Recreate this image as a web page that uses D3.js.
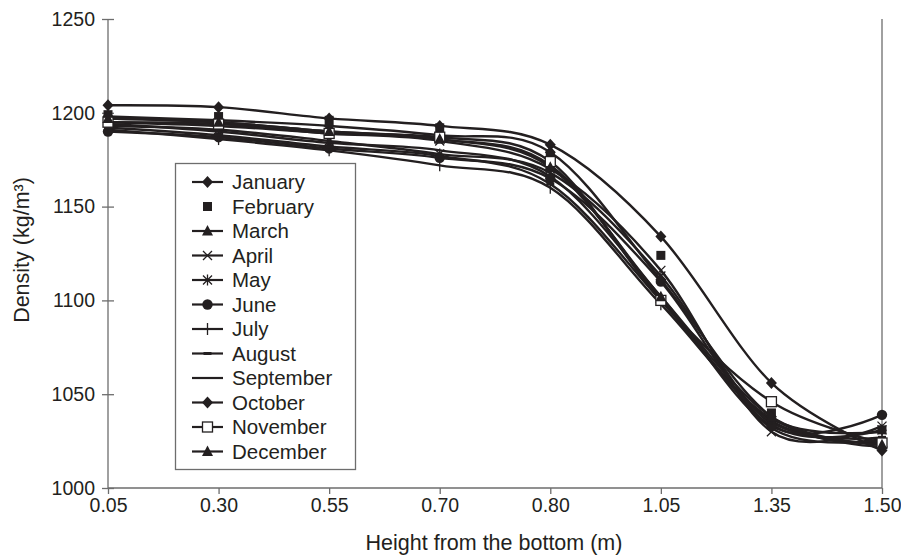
<!DOCTYPE html>
<html><head><meta charset="utf-8">
<script src="https://cdn.jsdelivr.net/npm/d3@7"></script>
<style>body{margin:0;background:#fff}svg{display:block}text{font-family:"Liberation Sans",Arial,sans-serif;fill:#231f20}</style>
</head><body>
<svg id="c" width="901" height="555"></svg>
<script>
const heights = ["0.05","0.30","0.55","0.70","0.80","1.05","1.35","1.50"];
const months = ["January","February","March","April","May","June","July","August","September","October","November","December"];
const markers = ["diamond","square","triangle","x","asterisk","circle","plus","dash","none","diamond","opensquare","triangle"];
const showLine = [true,false,true,true,true,true,true,true,true,true,true,true];
const January   = [1204,1203,1197,1193,1183,1134,1056,1020];
const February  = [1199,1198,1196,1192,1177,1124,1040,1031];
const March     = [1197,1195,1190,1186,1172,1101,1036,1024];
const April     = [1195,1193,1189,1185,1170,1116,1030,1033];
const May       = [1193,1191,1185,1178,1168,1113,1034,1031];
const June      = [1190,1187,1181,1176,1165,1110,1033,1039];
const July      = [1191,1186,1180,1172,1160,1098,1037,1030];
const August    = [1192,1188,1182,1177,1162,1100,1035,1027];
const September = [1194,1190,1184,1180,1166,1102,1032,1026];
const October   = [1198,1196,1193,1188,1179,1111,1038,1022];
const November  = [1195,1194,1189,1187,1174,1100,1046,1024];
const December  = [1197,1195,1190,1186,1171,1102,1038,1023];
const seriesValues = [January,February,March,April,May,June,July,August,September,October,November,December];
const yTicks = [1000,1050,1100,1150,1200,1250];

const svg = d3.select("#c");
const ink = "#231f20", axisCol = "#6d6d6d";
const x = d3.scalePoint().domain(heights).range([108, 882]);
const y = d3.scaleLinear().domain([1000,1250]).range([488, 19]);

// axes
const yAxis = svg.append("g").attr("transform","translate(108,0)")
  .call(d3.axisLeft(y).tickValues(yTicks).tickSize(6).tickPadding(7).tickFormat(d3.format("d")));
yAxis.selectAll(".tick line").attr("x2",-6).attr("x1",6);
const xAxis = svg.append("g").attr("transform","translate(0,488)")
  .call(d3.axisBottom(x).tickSize(6).tickPadding(4));
[yAxis,xAxis].forEach(a=>{
  a.select(".domain").attr("stroke",axisCol).attr("stroke-width",1.3);
  a.selectAll(".tick line").attr("stroke",axisCol).attr("stroke-width",1.3);
  a.selectAll(".tick text").attr("font-size",19.5).style("font-family",'"Liberation Sans",Arial,sans-serif').attr("fill",ink);
});
xAxis.select(".domain").attr("d",`M108,0H882`);
yAxis.select(".domain").attr("d",`M0,${y(1250)}V${y(1000)}`);
svg.append("line").attr("x1",x("1.50")).attr("x2",x("1.50")).attr("y1",y(1250)).attr("y2",y(1000))
  .attr("stroke",axisCol).attr("stroke-width",1.3);

// axis titles
svg.append("text").attr("x",494).attr("y",550).attr("text-anchor","middle").attr("font-size",21.5)
  .text("Height from the bottom (m)");
svg.append("text").attr("transform","translate(29,250) rotate(-90)").attr("text-anchor","middle").attr("font-size",21.5)
  .text("Density (kg/m³)");

// markers
function drawMarker(g, type, cx, cy){
  const s = 5.5;
  switch(type){
    case "diamond": g.append("path").attr("d",`M${cx},${cy-s-0.5}L${cx+s},${cy}L${cx},${cy+s+0.5}L${cx-s},${cy}Z`).attr("fill",ink); break;
    case "square": g.append("rect").attr("x",cx-4.5).attr("y",cy-4.5).attr("width",9).attr("height",9).attr("fill",ink); break;
    case "opensquare": g.append("rect").attr("x",cx-5).attr("y",cy-5).attr("width",10).attr("height",10).attr("fill","#fff").attr("stroke",ink).attr("stroke-width",1.3); break;
    case "triangle": g.append("path").attr("d",`M${cx},${cy-6}L${cx+5.5},${cy+4.5}L${cx-5.5},${cy+4.5}Z`).attr("fill",ink); break;
    case "circle": g.append("circle").attr("cx",cx).attr("cy",cy).attr("r",5.2).attr("fill",ink); break;
    case "x": g.append("path").attr("d",`M${cx-4.5},${cy-4.5}L${cx+4.5},${cy+4.5}M${cx-4.5},${cy+4.5}L${cx+4.5},${cy-4.5}`).attr("stroke",ink).attr("stroke-width",1.3).attr("fill","none"); break;
    case "asterisk": g.append("path").attr("d",`M${cx-4.5},${cy-4.5}L${cx+4.5},${cy+4.5}M${cx-4.5},${cy+4.5}L${cx+4.5},${cy-4.5}M${cx},${cy-5.5}V${cy+5.5}`).attr("stroke",ink).attr("stroke-width",1.3).attr("fill","none"); break;
    case "plus": g.append("path").attr("d",`M${cx},${cy-6}V${cy+6}`).attr("stroke",ink).attr("stroke-width",1.3).attr("fill","none"); break;
    case "dash": g.append("path").attr("d",`M${cx-4},${cy}H${cx+4}`).attr("stroke",ink).attr("stroke-width",3).attr("fill","none"); break;
  }
}

const line = d3.line().x((d,i)=>x(heights[i])).y(d=>y(d)).curve(d3.curveCardinal.tension(0));
const plot = svg.append("g");
seriesValues.forEach((vals,k)=>{
  if(showLine[k]) plot.append("path").attr("d",line(vals)).attr("fill","none").attr("stroke",ink).attr("stroke-width",2.4);
});
seriesValues.forEach((vals,k)=>{
  vals.forEach((v,i)=>drawMarker(plot, markers[k], x(heights[i]), y(v)));
});

// legend
const lg = svg.append("g");
lg.append("rect").attr("x",175.5).attr("y",163.5).attr("width",180).attr("height",306)
  .attr("fill","#fff").attr("stroke",axisCol).attr("stroke-width",1.3);
months.forEach((m,k)=>{
  const cy = 182 + k*24.5;
  if(showLine[k]) lg.append("line").attr("x1",192).attr("x2",223).attr("y1",cy).attr("y2",cy).attr("stroke",ink).attr("stroke-width",2.2);
  drawMarker(lg, markers[k], 207.5, cy);
  lg.append("text").attr("x",232).attr("y",cy).attr("dy","0.36em").attr("font-size",20.5).text(m);
});
</script>
</body></html>
